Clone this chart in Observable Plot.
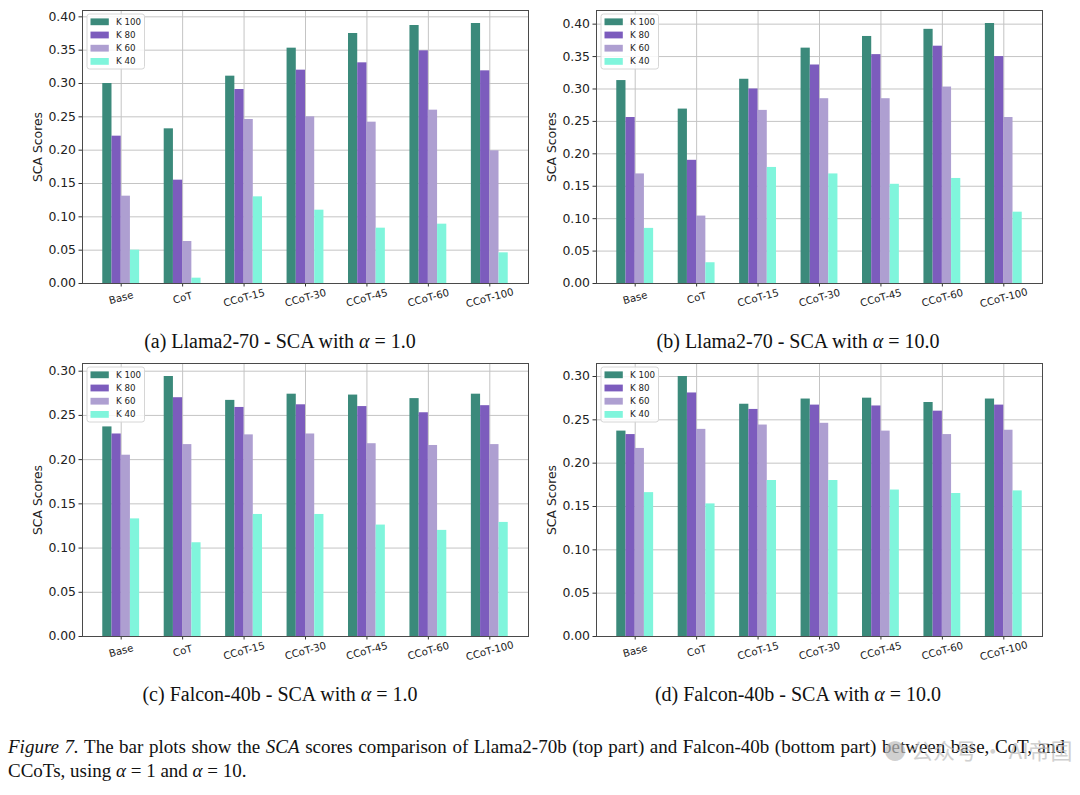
<!DOCTYPE html>
<html>
<head>
<meta charset="utf-8">
<script src="https://cdn.jsdelivr.net/npm/d3@7"></script>
<script src="https://cdn.jsdelivr.net/npm/@observablehq/plot@0.6"></script>
<style>
  html, body { margin: 0; padding: 0; background: #fff; }
  #page { position: relative; width: 1080px; height: 795px; overflow: hidden; background: #fff; }
  .panel { position: absolute; width: 540px; height: 318px; }
  .panel svg, .panel svg text { font-family: "DejaVu Sans", sans-serif !important; }
  .subcap { position: absolute; width: 600px; text-align: center; font-family: "Liberation Serif", "Times New Roman", serif; font-size: 20px; color: #111; white-space: nowrap; line-height: 22px; }
  .figcap { position: absolute; left: 8px; width: 1057px; font-family: "Liberation Serif", "Times New Roman", serif; font-size: 19px; color: #111; white-space: nowrap; line-height: 24px; }
  .wm { position: absolute; left: 884px; top: 733px; font-family: "Noto Sans CJK SC", sans-serif; font-size: 22px; color: #bdbdbd; opacity: 0.7; white-space: nowrap; }
</style>
</head>
<body>
<div id="page">
  <div id="pa" class="panel" style="left:0px; top:0px;"></div>
  <div id="pb" class="panel" style="left:540px; top:0px;"></div>
  <div id="pc" class="panel" style="left:0px; top:353px;"></div>
  <div id="pd" class="panel" style="left:540px; top:353px;"></div>

  <div class="subcap" style="left:-20px; top:330px;">(a) Llama2-70 - SCA with <i>α</i> = 1.0</div>
  <div class="subcap" style="left:498px; top:330px;">(b) Llama2-70 - SCA with <i>α</i> = 10.0</div>
  <div class="subcap" style="left:-20px; top:683px;">(c) Falcon-40b - SCA with <i>α</i> = 1.0</div>
  <div class="subcap" style="left:498px; top:683px;">(d) Falcon-40b - SCA with <i>α</i> = 10.0</div>

  <div class="figcap" style="top:735px; text-align:justify; text-align-last:justify;"><i>Figure 7.</i> The bar plots show the <i>SCA</i> scores comparison of Llama2-70b (top part) and Falcon-40b (bottom part) between base, CoT, and</div>
  <div class="figcap" style="top:759px;">CCoTs, using <i>α</i> = 1 and <i>α</i> = 10.</div>
  <div class="wm">● 公众号 · AI帝国</div>
</div>
<script>
const categories = ["Base", "CoT", "CCoT-15", "CCoT-30", "CCoT-45", "CCoT-60", "CCoT-100"];
const seriesNames = ["K 100", "K 80", "K 60", "K 40"];
const seriesColors = ["#3b8a7b", "#7c5cbd", "#ae9fd1", "#80f5dc"];
const yTickStep = 0.05;
const barWidth = 0.15;

// (a) Llama2-70, alpha = 1.0
const llamaA1_K100 = [0.300, 0.232, 0.311, 0.353, 0.375, 0.387, 0.390];
const llamaA1_K80  = [0.221, 0.155, 0.291, 0.320, 0.331, 0.349, 0.319];
const llamaA1_K60  = [0.131, 0.063, 0.246, 0.250, 0.242, 0.260, 0.199];
const llamaA1_K40  = [0.050, 0.008, 0.130, 0.110, 0.083, 0.089, 0.046];
// (b) Llama2-70, alpha = 10.0
const llamaA10_K100 = [0.313, 0.269, 0.315, 0.363, 0.381, 0.392, 0.401];
const llamaA10_K80  = [0.256, 0.190, 0.300, 0.337, 0.353, 0.366, 0.350];
const llamaA10_K60  = [0.169, 0.104, 0.267, 0.285, 0.285, 0.303, 0.256];
const llamaA10_K40  = [0.085, 0.032, 0.179, 0.169, 0.153, 0.162, 0.110];
// (c) Falcon-40b, alpha = 1.0
const falconA1_K100 = [0.237, 0.294, 0.267, 0.274, 0.273, 0.269, 0.274];
const falconA1_K80  = [0.229, 0.270, 0.259, 0.262, 0.260, 0.253, 0.261];
const falconA1_K60  = [0.205, 0.217, 0.228, 0.229, 0.218, 0.216, 0.217];
const falconA1_K40  = [0.133, 0.106, 0.138, 0.138, 0.126, 0.120, 0.129];
// (d) Falcon-40b, alpha = 10.0
const falconA10_K100 = [0.237, 0.300, 0.268, 0.274, 0.275, 0.270, 0.274];
const falconA10_K80  = [0.233, 0.281, 0.262, 0.267, 0.266, 0.260, 0.267];
const falconA10_K60  = [0.217, 0.239, 0.244, 0.246, 0.237, 0.233, 0.238];
const falconA10_K40  = [0.166, 0.153, 0.180, 0.180, 0.169, 0.165, 0.168];

function buildRows(seriesArrays) {
  const rows = [];
  seriesArrays.forEach((arr, s) => {
    arr.forEach((v, i) => {
      const center = i + (s - (seriesArrays.length - 1) / 2) * barWidth;
      rows.push({category: categories[i], index: i, series: seriesNames[s], x1: center - barWidth / 2, x2: center + barWidth / 2, value: v});
    });
  });
  return rows;
}

function panel(el, seriesArrays, marginLeft, marginRight) {
  const rows = buildRows(seriesArrays);
  const maxV = d3.max(rows, d => d.value);
  const yTop = maxV * 1.05;
  const groupHalf = seriesArrays.length * barWidth / 2;
  const xPad = (categories.length - 1 + 2 * groupHalf) * 0.05 + groupHalf;
  const yTicks = d3.range(0, yTop + 1e-9, yTickStep);
  const idx = categories.map((c, i) => i);
  const W = 540, H = 318, mt = 10, mb = 35;
  const font = "'DejaVu Sans', sans-serif";

  const chart = Plot.plot({
    width: W, height: H,
    marginLeft, marginRight, marginTop: mt, marginBottom: mb,
    style: {fontFamily: font, color: "#222", background: "transparent"},
    x: {type: "linear", domain: [-xPad, categories.length - 1 + xPad]},
    y: {domain: [0, yTop]},
    color: {domain: seriesNames, range: seriesColors},
    marks: [
      Plot.gridY(yTicks, {stroke: "#c4c4c4", strokeOpacity: 1, strokeWidth: 1}),
      Plot.gridX(idx, {stroke: "#c4c4c4", strokeOpacity: 1, strokeWidth: 1}),
      Plot.rectY(rows, {x1: "x1", x2: "x2", y1: 0, y2: "value", fill: "series", inset: 0}),
      Plot.axisY(yTicks, {tickFormat: d => d.toFixed(2), fontSize: 12.4, tickSize: 3.5, tickPadding: 3, label: null, stroke: "#333"}),
      Plot.axisX(idx, {tickFormat: () => "", tickSize: 3.5, label: null, stroke: "#333"}),
      Plot.text(idx, {x: d => d, frameAnchor: "bottom", dy: 14.5, rotate: -15, text: d => categories[d], textAnchor: "middle", lineAnchor: "middle", fontSize: 10.2, fill: "#222"}),
      Plot.text(["SCA Scores"], {frameAnchor: "left", dx: -44, rotate: -90, fontSize: 12.4, fill: "#222", textAnchor: "middle", lineAnchor: "middle"}),
      Plot.frame({stroke: "#4a4a4a", strokeWidth: 1})
    ]
  });

  // legend (upper left, inside frame)
  const svg = d3.select(chart);
  const lx = marginLeft + 5, ly = mt + 4;
  const g = svg.append("g").attr("transform", `translate(${lx},${ly})`).attr("text-anchor", "start");
  g.append("rect").attr("width", 57.5).attr("height", 55).attr("rx", 2.5)
    .attr("fill", "#fff").attr("fill-opacity", 0.85).attr("stroke", "#d6d6d6").attr("stroke-width", 1);
  seriesNames.forEach((name, i) => {
    const cy = 7.8 + i * 13.2;
    g.append("rect").attr("x", 3.5).attr("y", cy - 3.4).attr("width", 18.3).attr("height", 6.8).attr("fill", seriesColors[i]);
    g.append("text").attr("x", 29).attr("y", cy).attr("dy", "0.35em").attr("text-anchor", "start")
      .style("text-anchor", "start")
      .attr("font-size", 8.7).attr("fill", "#222").text(name);
  });
  el.appendChild(chart);
}

panel(document.getElementById("pa"), [llamaA1_K100, llamaA1_K80, llamaA1_K60, llamaA1_K40], 82, 12);
panel(document.getElementById("pb"), [llamaA10_K100, llamaA10_K80, llamaA10_K60, llamaA10_K40], 56, 38);
panel(document.getElementById("pc"), [falconA1_K100, falconA1_K80, falconA1_K60, falconA1_K40], 82, 12);
panel(document.getElementById("pd"), [falconA10_K100, falconA10_K80, falconA10_K60, falconA10_K40], 56, 38);
</script>
</body>
</html>
